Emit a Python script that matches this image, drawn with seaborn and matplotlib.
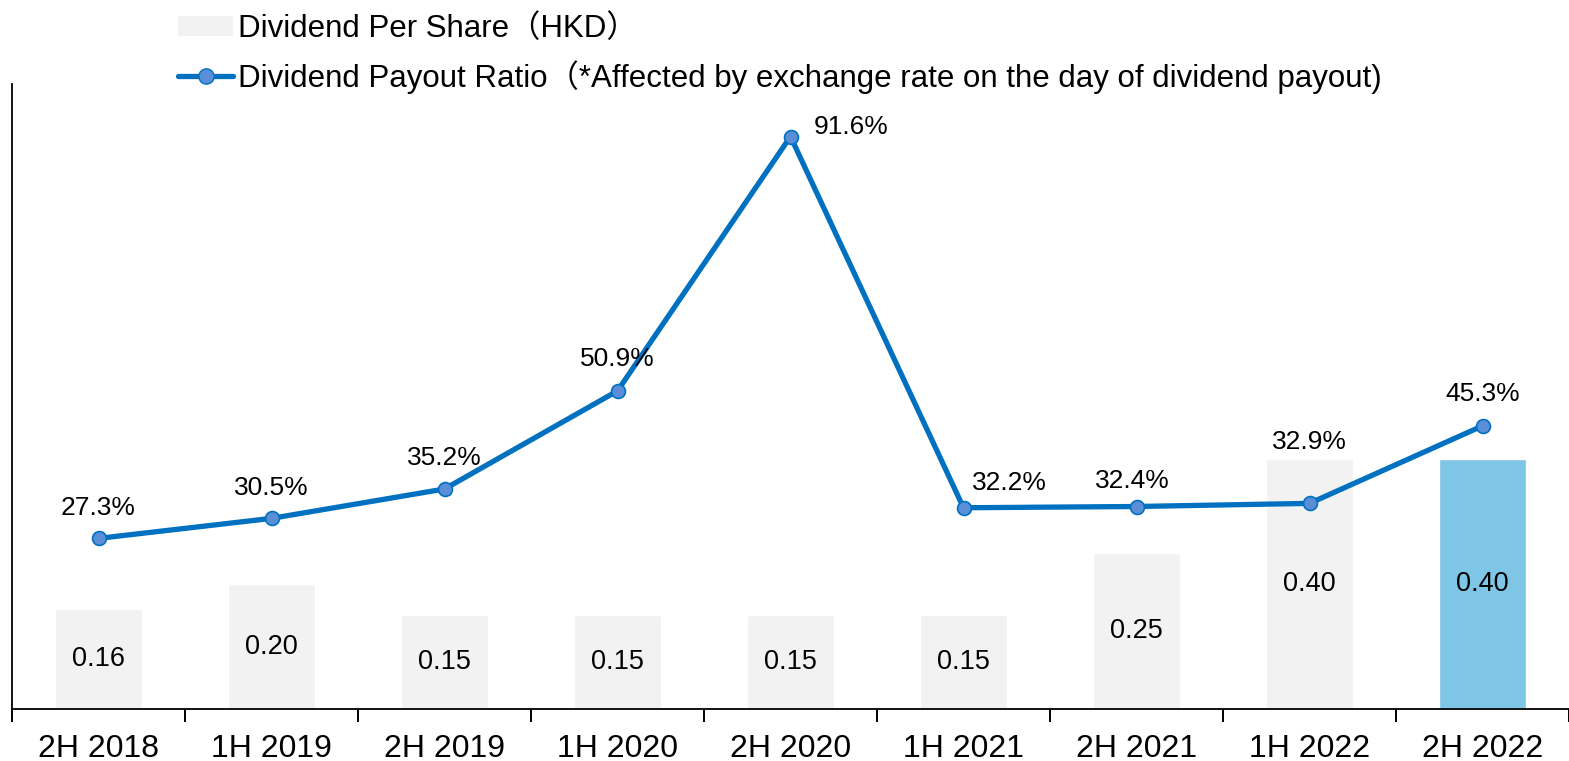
import numpy as np
import pandas as pd
import seaborn as sns
import matplotlib.pyplot as plt
from matplotlib.patches import Patch
from matplotlib.lines import Line2D

periods = ["2H 2018", "1H 2019", "2H 2019", "1H 2020", "2H 2020",
           "1H 2021", "2H 2021", "1H 2022", "2H 2022"]
dividend_per_share = [0.16, 0.20, 0.15, 0.15, 0.15, 0.15, 0.25, 0.40, 0.40]
payout_ratio = [27.3, 30.5, 35.2, 50.9, 91.6, 32.2, 32.4, 32.9, 45.3]

dps_label = "Dividend Per Share（HKD）"
ratio_label = "Dividend Payout Ratio（*Affected by exchange rate on the day of dividend payout)"

# label offsets in points (dx, dy) for the payout ratio annotations
ratio_offsets = [(0, 22), (0, 22), (0, 22), (0, 23), (44, 7),
                 (33, 18), (-3, 18), (0, 44), (0, 23)]

sns.set_style("white")
plt.rcParams["font.family"] = ["Liberation Sans", "Noto Sans CJK SC", "DejaVu Sans"]
plt.rcParams["text.color"] = "black"

bar_grey = "#F2F2F2"
bar_blue = "#7FC5E6"
line_blue = "#0070C0"
marker_face = "#5A8FD8"

df = pd.DataFrame({"period": periods, "dps": dividend_per_share, "ratio": payout_ratio})
colors = [bar_grey] * (len(periods) - 1) + [bar_blue]

fig = plt.figure(figsize=(15.69, 7.61), dpi=100)
ax = fig.add_axes([12 / 1569, 1 - 709 / 761, 1 - 12 / 1569, (709 - 84) / 761])

sns.barplot(data=df, x="period", y="dps", hue="period", palette=colors,
            legend=False, width=0.5, saturation=1, ax=ax)
for cont in ax.containers:
    ax.bar_label(cont, fmt="%.2f", label_type="center", fontsize=19.5, color="black")

ax.set_ylim(0, 1.0)
ax.set_xlim(-0.5, len(periods) - 0.5)
ax.set_xlabel("")
ax.set_ylabel("")
ax.set_yticks([])
ax.set_xticks(range(len(periods)))
ax.set_xticklabels(periods, fontsize=23, color="black")
ax.set_xticks(np.arange(-0.5, len(periods), 1.0), minor=True)
ax.tick_params(axis="x", which="major", bottom=False, length=0, pad=18)
ax.tick_params(axis="x", which="minor", bottom=True, length=9, width=1.4,
               color="black", direction="out")
for side in ["top", "right"]:
    ax.spines[side].set_visible(False)
for side in ["left", "bottom"]:
    ax.spines[side].set_color("black")
    ax.spines[side].set_linewidth(1.3)

ax2 = ax.twinx()
x_pos = np.arange(len(periods))
sns.lineplot(x=x_pos, y=payout_ratio, ax=ax2, color=line_blue, linewidth=3.8,
             marker="o", markersize=10, markerfacecolor=marker_face,
             markeredgecolor=line_blue, markeredgewidth=1.2)
ax2.set_ylim(0, 100)
ax2.set_yticks([])
ax2.set_ylabel("")
for s in ax2.spines.values():
    s.set_visible(False)

for xi, val, (dx, dy) in zip(x_pos, payout_ratio, ratio_offsets):
    ax2.annotate(f"{val:.1f}%", (xi, val), xytext=(dx, dy), textcoords="offset points",
                 ha="center", va="center", fontsize=19, color="black")

handles = [
    Patch(facecolor=bar_grey, edgecolor="none"),
    Line2D([0], [0], color=line_blue, linewidth=3.8, marker="o", markersize=11,
           markerfacecolor=marker_face, markeredgecolor=line_blue),
]
fig.legend(handles, [dps_label, ratio_label], loc="upper left",
           bbox_to_anchor=(172 / 1569, 1 - 8 / 761), frameon=False, fontsize=22.5,
           handlelength=1.75, handleheight=0.6, handletextpad=0.15, labelspacing=0.5,
           borderaxespad=0, borderpad=0.2)

fig.savefig("out.png", dpi=100)
